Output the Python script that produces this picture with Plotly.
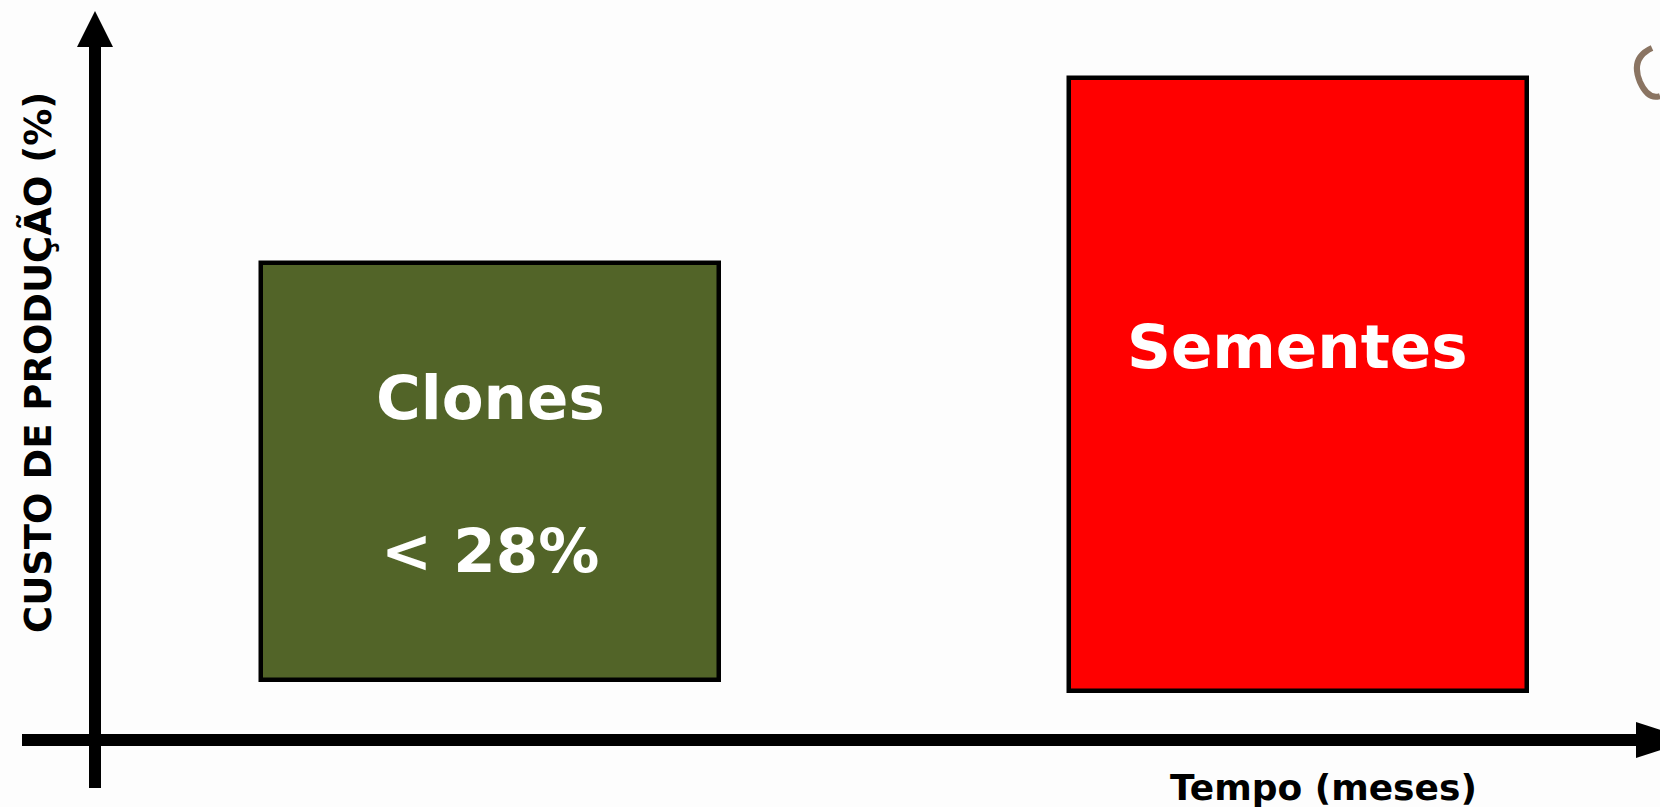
import plotly.graph_objects as go

# ---- data ----
categorias = ["Clones", "Sementes"]
custo_topo = [72, 100]          # custo de produção (%) – topo de cada bloco
custo_base = [9, 7.4]           # início de cada bloco
cores = ["#526428", "#ff0000"]
rotulos_clones = ["Clones", "< 28%"]
rotulo_sementes = "Sementes"
titulo_y = "CUSTO DE PRODUÇÃO (%)"
titulo_x = "Tempo (meses)"

# ---- layout constants (pixels) ----
W, H = 1660, 807
Y0_PX = 740          # pixel row of value 0
K = 6.62             # pixels per %
X0_PX = 490          # pixel column of first category
DX = 807.5           # pixels between categories

def px(x):
    return x / W

def py(y):
    return 1 - y / H

FONT = "DejaVu Sans"

fig = go.Figure()
fig.add_trace(go.Bar(
    x=categorias,
    y=[t - b for t, b in zip(custo_topo, custo_base)],
    base=custo_base,
    width=458 / DX,
    marker=dict(color=cores, line=dict(color="black", width=4.5)),
    hoverinfo="skip",
    showlegend=False,
))

annotations = [
    dict(x=categorias[0], y=51.8, text="<b>%s</b>" % rotulos_clones[0]),
    dict(x=categorias[0], y=28.6, text="<b>%s</b>" % rotulos_clones[1]),
    dict(x=categorias[1], y=59.4, text="<b>%s</b>" % rotulo_sementes),
]
for a in annotations:
    a.update(xref="x", yref="y", showarrow=False, xanchor="center", yanchor="middle",
             font=dict(family=FONT, size=61, color="white"))

annotations.append(dict(x=px(38), y=py(363), xref="paper", yref="paper", text="<b>%s</b>" % titulo_y,
                        textangle=-90, showarrow=False, xanchor="center", yanchor="middle",
                        font=dict(family=FONT, size=37, color="black")))
annotations.append(dict(x=px(1323), y=0, xref="paper", yref="paper", text="<b>%s</b>" % titulo_x,
                        showarrow=False, xanchor="center", yanchor="bottom", yshift=-3,
                        font=dict(family=FONT, size=36, color="black")))

shapes = [
    # y axis line
    dict(type="line", xref="paper", yref="paper", x0=px(95), x1=px(95), y0=py(788), y1=py(44),
         line=dict(color="black", width=12)),
    # y axis arrowhead
    dict(type="path", xref="paper", yref="paper",
         path="M %f %f L %f %f L %f %f Z" % (px(77), py(47), px(113), py(47), px(95), py(11)),
         fillcolor="black", line=dict(color="black", width=0)),
    # x axis line
    dict(type="line", xref="paper", yref="paper", x0=px(22), x1=px(1640), y0=py(740), y1=py(740),
         line=dict(color="black", width=12)),
    # x axis arrowhead
    dict(type="path", xref="paper", yref="paper",
         path="M %f %f L %f %f L %f %f Z" % (px(1636), py(722), px(1636), py(758), px(1692), py(740)),
         fillcolor="black", line=dict(color="black", width=0)),
    # small clipart fragment (horn) at top right
    dict(type="path", xref="paper", yref="paper",
         path="M %f %f Q %f %f %f %f Q %f %f %f %f" % (px(1652), py(48), px(1630), py(58), px(1640), py(82),
                                                      px(1648), py(100), px(1660), py(96)),
         line=dict(color="#8a7462", width=6)),
]

fig.update_layout(
    width=W, height=H,
    margin=dict(l=0, r=0, t=0, b=0),
    paper_bgcolor="#fdfdfd", plot_bgcolor="#fdfdfd",
    xaxis=dict(visible=False, range=[-X0_PX / DX, (W - X0_PX) / DX]),
    yaxis=dict(visible=False, range=[(Y0_PX - H) / K, Y0_PX / K]),
    annotations=annotations,
    shapes=shapes,
    bargap=0,
)

fig.write_html(
    "out.html",
    config={"displayModeBar": False},
    post_script="document.body.style.margin='0';document.body.style.overflow='hidden';",
)
